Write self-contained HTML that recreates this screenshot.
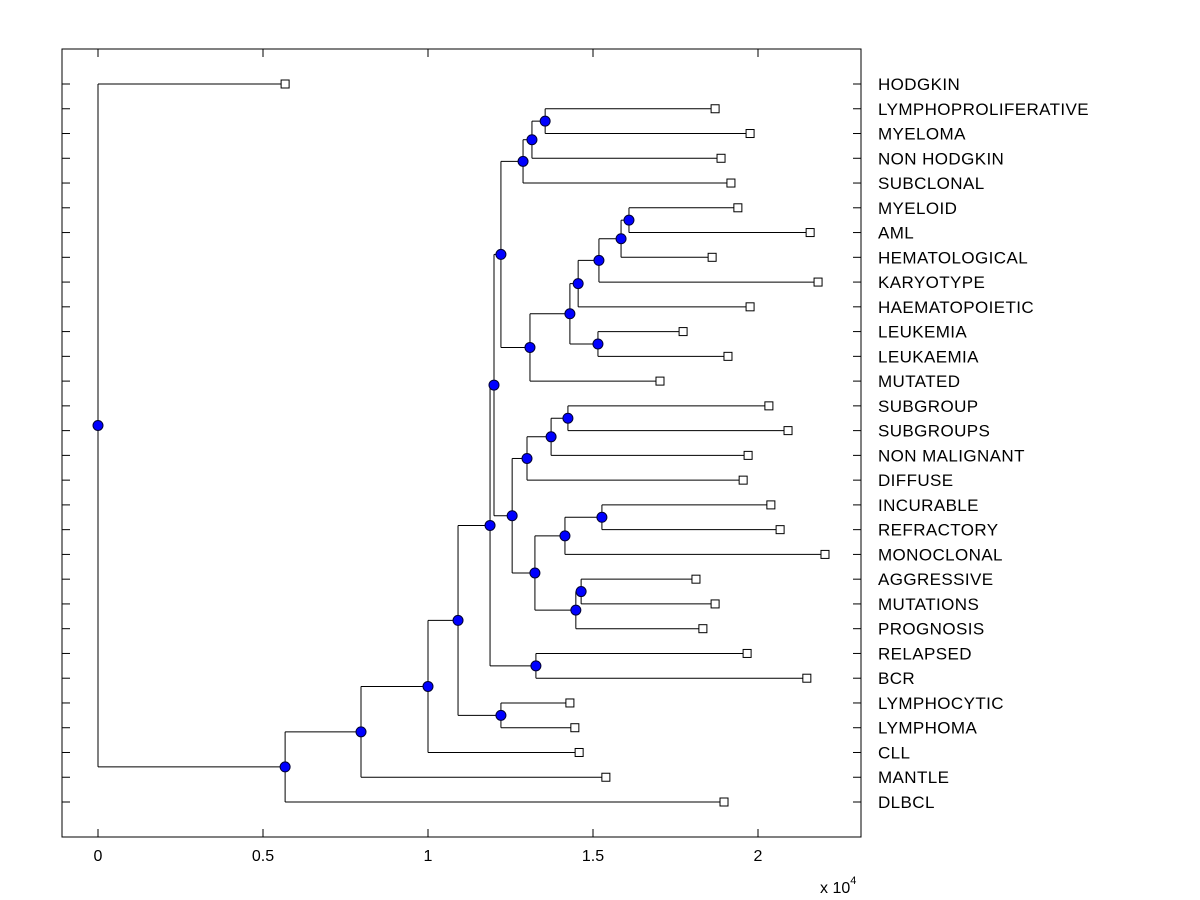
<!DOCTYPE html>
<html><head><meta charset="utf-8"><style>
body{margin:0;background:#fff;}
svg{display:block;font-family:"Liberation Sans",Arial,sans-serif;}
</style></head><body>
<svg id="chart" width="1200" height="900" xmlns="http://www.w3.org/2000/svg">
<rect x="0" y="0" width="1200" height="900" fill="#fff"/>
<g id="g"></g>
</svg>
<script>
const labels=["HODGKIN","LYMPHOPROLIFERATIVE","MYELOMA","NON HODGKIN","SUBCLONAL","MYELOID","AML","HEMATOLOGICAL","KARYOTYPE","HAEMATOPOIETIC","LEUKEMIA","LEUKAEMIA","MUTATED","SUBGROUP","SUBGROUPS","NON MALIGNANT","DIFFUSE","INCURABLE","REFRACTORY","MONOCLONAL","AGGRESSIVE","MUTATIONS","PROGNOSIS","RELAPSED","BCR","LYMPHOCYTIC","LYMPHOMA","CLL","MANTLE","DLBCL"];
const leafValues=[0.567,1.870,1.976,1.888,1.918,1.939,2.158,1.861,2.182,1.976,1.773,1.909,1.703,2.033,2.091,1.970,1.955,2.039,2.067,2.203,1.812,1.870,1.833,1.967,2.148,1.430,1.445,1.458,1.539,1.897];
const mergeLeft=[1,30,31,5,33,34,35,10,36,38,32,13,41,42,17,44,20,46,45,43,40,23,50,25,52,54,55,56,0];
const mergeRight=[2,3,4,6,7,8,9,11,37,12,39,14,15,16,18,19,21,22,47,48,49,24,51,26,53,27,28,29,57];
const mergeHeights=[1.355,1.315,1.288,1.609,1.585,1.518,1.455,1.515,1.430,1.309,1.221,1.424,1.373,1.300,1.527,1.415,1.464,1.448,1.324,1.255,1.200,1.327,1.188,1.221,1.091,1.000,0.797,0.567,0];
const xTicks=[0,0.5,1,1.5,2];
const xTickLabels=["0","0.5","1","1.5","2"];

const L=62,R=861,T=49,B=837;
const X=v=>98+v*330;
const Y=i=>84+i*(802-84)/29;
const g=document.getElementById('g');
const NS="http://www.w3.org/2000/svg";
function mk(tag,attrs,parent){const e=document.createElementNS(NS,tag);for(const k in attrs)e.setAttribute(k,attrs[k]);(parent||g).appendChild(e);return e;}

const box=mk('rect',{x:L,y:T,width:R-L,height:B-T,fill:'none',stroke:'#000','stroke-width':1});



labels.forEach((lab,i)=>{
  const y=Y(i);
  mk('line',{x1:L,y1:y,x2:L+8,y2:y,stroke:'#000'});
  mk('line',{x1:R,y1:y,x2:R-8,y2:y,stroke:'#000'});
  const t=mk('text',{x:878,y:y+6,'font-size':17,'letter-spacing':0.4,fill:'#000'});
  t.textContent=lab;
  
  
});
xTicks.forEach((v,i)=>{
  const x=X(v);
  mk('line',{x1:x,y1:B,x2:x,y2:B-8,stroke:'#000'});
  mk('line',{x1:x,y1:T,x2:x,y2:T+8,stroke:'#000'});
  const t=mk('text',{x:x,y:861,'font-size':16,'text-anchor':'middle',fill:'#000'});
  t.textContent=xTickLabels[i];
  
  
});
const ex=mk('text',{x:820,y:893,'font-size':16,fill:'#000'});
ex.innerHTML='x 10<tspan dy="-9" font-size="11">4</tspan>';



const nodeX=[],nodeY=[];
leafValues.forEach((v,i)=>{nodeX[i]=X(v);nodeY[i]=Y(i);});
const links=mk('g',{});
const marks=mk('g',{});
mergeLeft.forEach((a,k)=>{
  const b=mergeRight[k],id=30+k,x=X(mergeHeights[k]);
  nodeX[id]=x;nodeY[id]=(nodeY[a]+nodeY[b])/2;
  mk('line',{x1:x,y1:nodeY[a],x2:x,y2:nodeY[b],stroke:'#000'},links);
  [a,b].forEach(c=>{
    const l=mk('line',{x1:x,y1:nodeY[c],x2:nodeX[c],y2:nodeY[c],stroke:'#000'},links);
    
    
  });
});
mergeLeft.forEach((a,k)=>{
  const id=30+k;
  const c=mk('circle',{cx:nodeX[id],cy:nodeY[id],r:5,fill:'#0000ff',stroke:'#000033','stroke-width':1},marks);
  
  
});
leafValues.forEach((v,i)=>{
  const s=mk('rect',{x:nodeX[i]-4,y:nodeY[i]-4,width:8,height:8,fill:'#fff',stroke:'#000'},marks);
  
  
});
</script>
</body></html>
